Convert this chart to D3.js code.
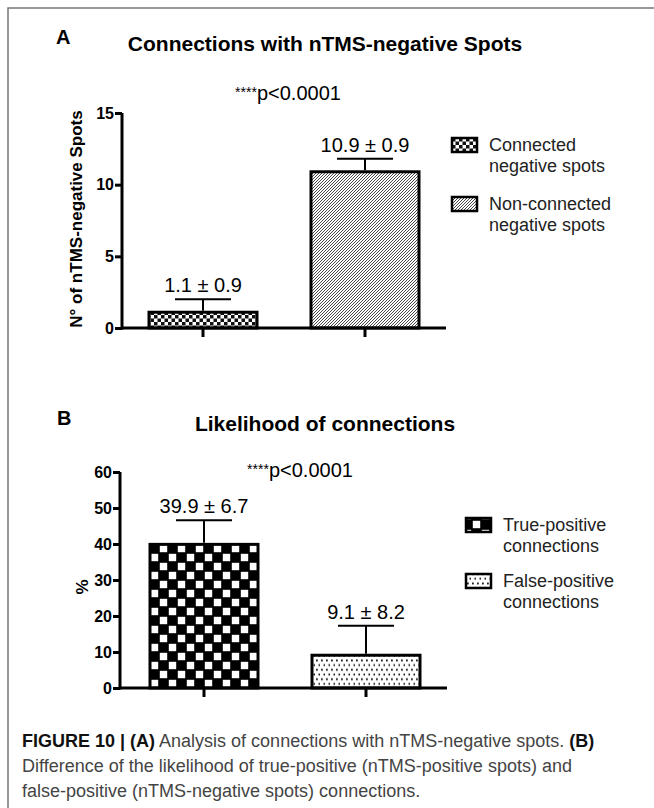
<!DOCTYPE html>
<html>
<head>
<meta charset="utf-8">
<script src="https://cdn.jsdelivr.net/npm/d3@7"></script>
<style>
  body { margin: 0; background: #fff; }
  svg { display: block; font-family: "Liberation Sans", Arial, sans-serif; }
</style>
</head>
<body>
<div id="figure"></div>
<script>
const width = 654;
const height = 808;

// Panel A data
const catsA = ["Connected negative spots", "Non-connected negative spots"];
const meansA = [1.1, 10.9];
const sdA = [0.9, 0.9];
const labelsA = ["1.1 ± 0.9", "10.9 ± 0.9"];
const ticksA = [0, 5, 10, 15];
const legendA = [["Connected", "negative spots"], ["Non-connected", "negative spots"]];

// Panel B data
const catsB = ["True-positive connections", "False-positive connections"];
const meansB = [39.9, 9.1];
const sdB = [6.7, 8.2];
const labelsB = ["39.9 ± 6.7", "9.1 ± 8.2"];
const ticksB = [0, 10, 20, 30, 40, 50, 60];
const legendB = [["True-positive", "connections"], ["False-positive", "connections"]];

const caption = [
    [["FIGURE 10 | (A)", true], [" Analysis of connections with nTMS-negative spots. ", false], ["(B)", true]],
    [["Difference of the likelihood of true-positive (nTMS-positive spots) and", false]],
    [["false-positive (nTMS-negative spots) connections.", false]]
];

const svg = d3.select("#figure")
    .append("svg")
    .attr("width", width)
    .attr("height", height);

// fill patterns
const defs = svg.append("defs");

const smallChecker = defs.append("pattern")
    .attr("id", "smallChecker")
    .attr("patternUnits", "userSpaceOnUse")
    .attr("width", 7).attr("height", 7);
smallChecker.append("rect").attr("width", 7).attr("height", 7).attr("fill", "#fff");
smallChecker.append("rect").attr("width", 3.5).attr("height", 3.5).attr("fill", "#111");
smallChecker.append("rect").attr("x", 3.5).attr("y", 3.5).attr("width", 3.5).attr("height", 3.5).attr("fill", "#111");

const hatch = defs.append("pattern")
    .attr("id", "hatch")
    .attr("patternUnits", "userSpaceOnUse")
    .attr("width", 3).attr("height", 3);
hatch.append("rect").attr("width", 3).attr("height", 3).attr("fill", "#fff");
hatch.append("path").attr("d", "M-1,1 L1,-1 M0,3 L3,0 M2,4 L4,2")
    .attr("stroke", "#333").attr("stroke-width", 0.9);

const bigChecker = defs.append("pattern")
    .attr("id", "bigChecker")
    .attr("patternUnits", "userSpaceOnUse")
    .attr("width", 18).attr("height", 18)
    .attr("x", 150).attr("y", 544);
bigChecker.append("rect").attr("width", 18).attr("height", 18).attr("fill", "#000");
bigChecker.append("rect").attr("x", 9.8).attr("y", 0.8).attr("width", 7.4).attr("height", 7.4).attr("fill", "#fff");
bigChecker.append("rect").attr("x", 0.8).attr("y", 9.8).attr("width", 7.4).attr("height", 7.4).attr("fill", "#fff");

const dots = defs.append("pattern")
    .attr("id", "dots")
    .attr("patternUnits", "userSpaceOnUse")
    .attr("width", 5).attr("height", 9.4);
dots.append("rect").attr("width", 5).attr("height", 9.4).attr("fill", "#fff");
dots.append("rect").attr("x", 1).attr("y", 1.5).attr("width", 1.8).attr("height", 1.8).attr("fill", "#111");
dots.append("rect").attr("x", 3.5).attr("y", 6.2).attr("width", 1.8).attr("height", 1.8).attr("fill", "#111");

// frame
svg.append("rect")
    .attr("x", 8).attr("y", 8)
    .attr("width", 700).attr("height", 900)
    .attr("fill", "none")
    .attr("stroke", "#777")
    .attr("stroke-width", 1.5);

function drawPanel(cfg) {
    const g = svg.append("g");

    const x = d3.scaleBand()
        .domain(cfg.cats)
        .range(cfg.xRange)
        .paddingInner(1 / 3)
        .paddingOuter(1 / 6);

    const y = d3.scaleLinear()
        .domain([0, cfg.ticks[cfg.ticks.length - 1]])
        .range(cfg.yRange);

    // panel letter and title
    g.append("text")
        .attr("x", cfg.letterX).attr("y", cfg.letterY)
        .attr("font-size", "20px").attr("font-weight", "bold")
        .text(cfg.letter);
    g.append("text")
        .attr("x", 325).attr("y", cfg.titleY)
        .attr("text-anchor", "middle")
        .attr("font-size", "21px").attr("font-weight", "bold")
        .text(cfg.title);

    // significance
    const p = g.append("text")
        .attr("x", cfg.pX).attr("y", cfg.pY)
        .attr("text-anchor", "middle")
        .attr("font-size", "20px");
    p.append("tspan").attr("font-size", "14px").attr("dy", "-3").text("****");
    p.append("tspan").attr("dy", "3").text("p<0.0001");

    // bars
    g.selectAll("rect.bar")
        .data(cfg.cats)
        .enter()
        .append("rect")
        .attr("class", "bar")
        .attr("x", d => x(d))
        .attr("y", (d, i) => y(cfg.means[i]))
        .attr("width", x.bandwidth())
        .attr("height", (d, i) => y(0) - y(cfg.means[i]))
        .attr("fill", (d, i) => `url(#${cfg.fills[i]})`)
        .attr("stroke", "#000")
        .attr("stroke-width", 3);

    // error bars (upper only)
    const cx = d => x(d) + x.bandwidth() / 2;
    g.selectAll("line.err")
        .data(cfg.cats)
        .enter()
        .append("line")
        .attr("x1", cx).attr("x2", cx)
        .attr("y1", (d, i) => y(cfg.means[i]) - 1.5)
        .attr("y2", (d, i) => y(cfg.means[i] + cfg.sd[i]))
        .attr("stroke", "#000").attr("stroke-width", 2);
    g.selectAll("line.cap")
        .data(cfg.cats)
        .enter()
        .append("line")
        .attr("x1", d => cx(d) - 28).attr("x2", d => cx(d) + 28)
        .attr("y1", (d, i) => y(cfg.means[i] + cfg.sd[i]))
        .attr("y2", (d, i) => y(cfg.means[i] + cfg.sd[i]))
        .attr("stroke", "#000").attr("stroke-width", 2);

    // value labels
    g.selectAll("text.val")
        .data(cfg.cats)
        .enter()
        .append("text")
        .attr("x", cx)
        .attr("y", (d, i) => y(cfg.means[i] + cfg.sd[i]) - 7)
        .attr("text-anchor", "middle")
        .attr("font-size", "20px")
        .text((d, i) => cfg.labels[i]);

    // y axis
    const yAxis = g.append("g")
        .attr("transform", `translate(${cfg.axisX},0)`)
        .call(d3.axisLeft(y).tickValues(cfg.ticks).tickSize(7).tickPadding(1).tickSizeOuter(0));
    yAxis.select(".domain").attr("stroke", "#000").attr("stroke-width", 3)
        .attr("d", `M0,${y(0) + 1.5}V${y.range()[1]}`);
    yAxis.selectAll(".tick line").attr("stroke", "#000").attr("stroke-width", 3);
    yAxis.selectAll(".tick text")
        .attr("font-family", "Liberation Sans, Arial, sans-serif")
        .attr("font-size", "16px").attr("font-weight", "bold")
        .attr("fill", "#000");

    // x axis
    const xAxis = g.append("g")
        .attr("transform", `translate(0,${y(0)})`)
        .call(d3.axisBottom(x).tickSize(9).tickFormat("").tickSizeOuter(0));
    xAxis.select(".domain").attr("stroke", "#000").attr("stroke-width", 3)
        .attr("d", `M${cfg.axisX},0H${cfg.xEnd}`);
    xAxis.selectAll(".tick line").attr("stroke", "#000").attr("stroke-width", 3);

    // y axis title
    g.append("text")
        .attr("transform", `translate(${cfg.yTitleX},${cfg.yTitleY}) rotate(-90)`)
        .attr("text-anchor", "middle")
        .attr("font-size", "17px").attr("font-weight", "bold")
        .text(cfg.yTitle);

    // legend
    const leg = g.selectAll("g.legend")
        .data(cfg.legend)
        .enter()
        .append("g")
        .attr("transform", (d, i) => `translate(${cfg.legX},${cfg.legY[i]})`);
    leg.append("rect")
        .attr("x", 0).attr("y", -7)
        .attr("width", 25).attr("height", 14)
        .attr("fill", (d, i) => `url(#${cfg.swatches[i]})`)
        .attr("stroke", "#000").attr("stroke-width", 2.5);
    leg.each(function(d) {
        d3.select(this).selectAll("text")
            .data(d)
            .enter()
            .append("text")
            .attr("x", 37)
            .attr("y", (t, j) => 6 + j * 21)
            .attr("font-size", "18px")
            .attr("fill", "#222")
            .text(t => t);
    });
}

drawPanel({
    cats: catsA, means: meansA, sd: sdA, labels: labelsA, ticks: ticksA, legend: legendA,
    fills: ["smallChecker", "hatch"], swatches: ["smallChecker", "hatch"],
    xRange: [122, 446], yRange: [328, 113], axisX: 122, xEnd: 446,
    letter: "A", letterX: 56, letterY: 44,
    title: "Connections with nTMS-negative Spots", titleY: 51,
    pX: 288, pY: 100,
    yTitle: "N° of nTMS-negative Spots", yTitleX: 82, yTitleY: 219,
    legX: 452, legY: [145, 204]
});

drawPanel({
    cats: catsB, means: meansB, sd: sdB, labels: labelsB, ticks: ticksB, legend: legendB,
    fills: ["bigChecker", "dots"], swatches: ["bigChecker", "dots"],
    xRange: [123, 447], yRange: [688, 472], axisX: 120, xEnd: 447,
    letter: "B", letterX: 57, letterY: 425,
    title: "Likelihood of connections", titleY: 431,
    pX: 300, pY: 477,
    yTitle: "%", yTitleX: 88, yTitleY: 587,
    legX: 466, legY: [525, 581]
});

// caption
const cap = svg.append("g");
caption.forEach(function(line, i) {
    const t = cap.append("text")
        .attr("x", 22)
        .attr("y", 747 + i * 25)
        .attr("font-size", "18px")
        .attr("fill", "#444");
    line.forEach(function(part) {
        t.append("tspan")
            .attr("font-weight", part[1] ? "bold" : "normal")
            .attr("fill", part[1] ? "#111" : "#444")
            .text(part[0]);
    });
});
</script>
</body>
</html>
